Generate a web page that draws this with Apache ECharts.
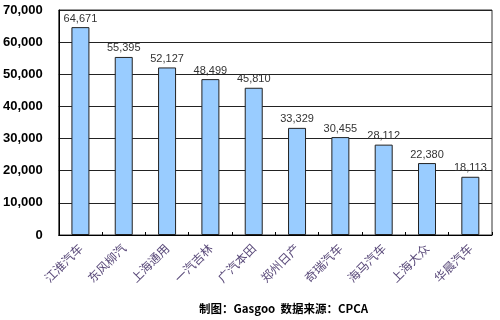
<!DOCTYPE html>
<html><head><meta charset="utf-8">
<script src="https://cdn.jsdelivr.net/npm/echarts@6/dist/echarts.min.js"></script>
<style>html,body{margin:0;padding:0;background:#fff}#c{width:500px;height:320px}</style>
</head><body><div id="c"></div>
<script>
const categories = ['江淮汽车','东风柳汽','上海通用','一汽吉林','广汽本田','郑州日产','奇瑞汽车','海马汽车','上海大众','华晨汽车'];
const values = [64671, 55395, 52127, 48499, 45810, 33329, 30455, 28112, 22380, 18113];
const footer = '制图：Gasgoo  数据来源：CPCA';

const chart = echarts.init(document.getElementById('c'), null, {renderer:'canvas'});
chart.setOption({
  animation:false,
  backgroundColor:'#fff',
  grid:{left:58, right:8, top:10, bottom:85, show:true, borderColor:'#333', borderWidth:1},
  xAxis:{
    type:'category', data:categories,
    axisLine:{lineStyle:{color:'#000', width:1}},
    axisTick:{show:true, inside:true, length:3, lineStyle:{color:'#000'}},
    axisLabel:{rotate:45, interval:0, color:'#5a4a7a', fontSize:12, margin:11, fontFamily:'Noto Sans CJK SC'}
  },
  yAxis:{
    type:'value', min:0, max:70000, interval:10000,
    axisLine:{show:true, lineStyle:{color:'#000'}},
    axisTick:{show:false},
    splitLine:{lineStyle:{color:'#222', width:1}},
    axisLabel:{color:'#000', fontWeight:'bold', fontSize:13, fontFamily:'Arial, Liberation Sans', margin:16,
      formatter:v=>v.toLocaleString('en-US')}
  },
  series:[{
    type:'bar', data:values, barWidth:18,
    itemStyle:{color:'#99ccff', borderColor:'#222', borderWidth:1},
    label:{show:true, position:'top', color:'#333', fontSize:11, fontFamily:'Arial, Liberation Sans', distance:3,
      formatter:p=>p.value.toLocaleString('en-US')}
  }],
  graphic:[{type:'text', left:199, top:303, style:{text:footer, fontSize:11.5, fontWeight:'bold', fill:'#000', fontFamily:'Noto Sans CJK SC'}}]
});
</script></body></html>
